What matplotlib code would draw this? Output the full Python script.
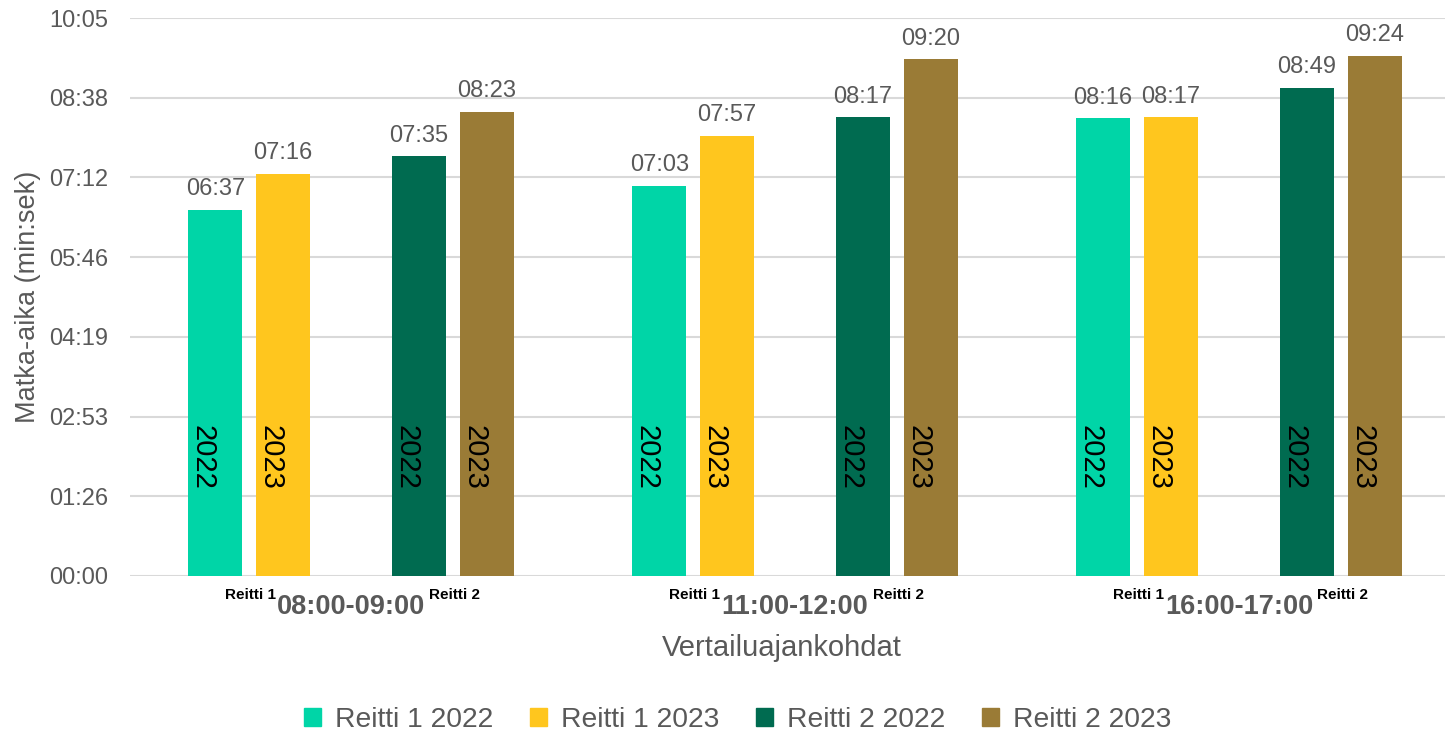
import numpy as np
import matplotlib
matplotlib.use("Agg")
import matplotlib.pyplot as plt
from matplotlib.patches import Patch

plt.rcParams["font.family"] = ["Liberation Sans", "DejaVu Sans"]

# data (seconds)
groups = ["08:00-09:00", "11:00-12:00", "16:00-17:00"]
series = ["Reitti 1 2022", "Reitti 1 2023", "Reitti 2 2022", "Reitti 2 2023"]
bar_years = ["2022", "2023", "2022", "2023"]
r1_2022 = [397, 423, 496]   # 06:37, 07:03, 08:16
r1_2023 = [436, 477, 497]   # 07:16, 07:57, 08:17
r2_2022 = [455, 497, 529]   # 07:35, 08:17, 08:49
r2_2023 = [503, 560, 564]   # 08:23, 09:20, 09:24
colors = ["#00D5A7", "#FFC61E", "#006B50", "#9A7B36"]
yticks_days = [0, 0.001, 0.002, 0.003, 0.004, 0.005, 0.006, 0.007]

TXT = "#595959"


def mmss(sec):
    s = int(round(sec))
    return f"{s // 60:02d}:{s % 60:02d}"


fig = plt.figure(figsize=(14.45, 7.33), dpi=100)
ax = fig.add_axes([0.09, 0.2142, 0.91, 0.7612])

x = np.arange(len(groups))
offsets = [-0.306, -0.153, 0.153, 0.306]
width = 0.1216
for vals, off, c, yr in zip([r1_2022, r1_2023, r2_2022, r2_2023], offsets, colors, bar_years):
    bars = ax.bar(x + off, vals, width, color=c, zorder=3)
    for b, v in zip(bars, vals):
        cx = b.get_x() + b.get_width() / 2
        ax.annotate(mmss(v), (cx, v), xytext=(0, 7),
                    textcoords="offset points", ha="center", va="bottom",
                    fontsize=17, color=TXT)
        ax.text(cx - 0.028, 128, yr, rotation=270,
                ha="center", va="center", fontsize=21, color="black", zorder=4)

yt = [d * 86400 for d in yticks_days]
ax.set_ylim(0, yt[-1])
ax.set_yticks(yt)
ax.set_yticklabels([mmss(v) for v in yt])
ax.set_xlim(-0.498, 2.464)
ax.set_xticks([])
ax.tick_params(axis="y", length=0, pad=16, labelsize=17, labelcolor=TXT)
ax.grid(axis="y", color="#D9D9D9", lw=1.5, zorder=0)
for s in ax.spines.values():
    s.set_visible(False)

trans = ax.get_xaxis_transform()
for i, g in enumerate(groups):
    ax.text(i - 0.227, -0.034, "Reitti 1", transform=trans, ha="center", va="center",
            fontsize=11, fontweight="bold", color="black")
    ax.text(i + 0.232, -0.034, "Reitti 2", transform=trans, ha="center", va="center",
            fontsize=11, fontweight="bold", color="black")
    ax.text(i, -0.056, g, transform=trans, ha="center", va="center",
            fontsize=19.5, fontweight="bold", color=TXT)

fig.text(782 / 1445, 1 - 648 / 733, "Vertailuajankohdat", ha="center", va="center",
         fontsize=21, color=TXT)
fig.text(28 / 1445, 1 - 297 / 733, "Matka-aika (min:sek)", rotation=90,
         ha="center", va="center", fontsize=19.5, color=TXT)

handles = [Patch(color=c, label=l) for c, l in zip(colors, series)]
fig.legend(handles=handles, loc="center", bbox_to_anchor=(738 / 1445, 13 / 733), ncol=4,
           frameon=False, fontsize=20.3, labelcolor=TXT, handlelength=0.6,
           handleheight=0.6, handletextpad=0.5, columnspacing=1.3)

fig.savefig("out.png", dpi=100)
